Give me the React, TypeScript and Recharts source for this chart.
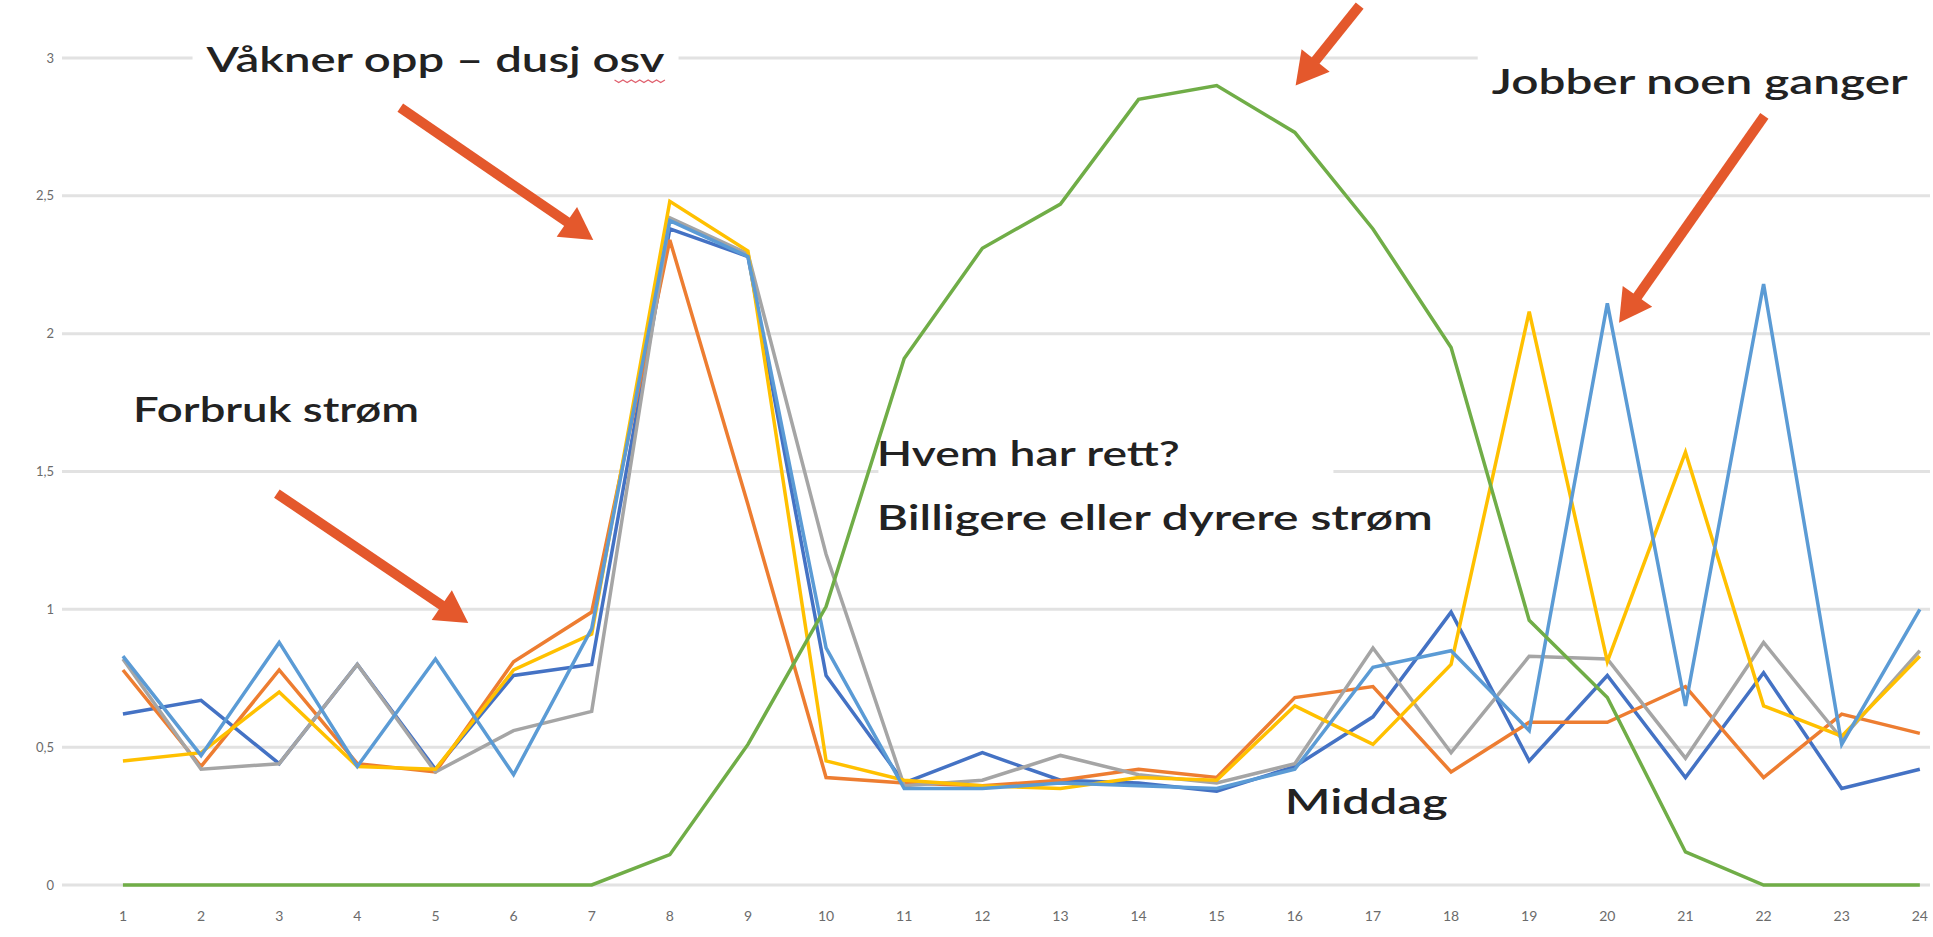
import { LineChart, Line, XAxis, YAxis, CartesianGrid, ReferenceLine, ReferenceDot } from 'recharts';

const HOURS = [1, 2, 3, 4, 5, 6, 7, 8, 9, 10, 11, 12, 13, 14, 15, 16, 17, 18, 19, 20, 21, 22, 23, 24];

// strømforbruk, fem husstander (kWh per time)
const HUS_1 = [0.62, 0.67, 0.44, 0.8, 0.42, 0.76, 0.8, 2.38, 2.28, 0.76, 0.37, 0.48, 0.38, 0.37, 0.34, 0.43, 0.61, 0.99, 0.45, 0.76, 0.39, 0.77, 0.35, 0.42];
const HUS_2 = [0.78, 0.43, 0.78, 0.44, 0.41, 0.81, 0.99, 2.34, 1.38, 0.39, 0.37, 0.36, 0.38, 0.42, 0.39, 0.68, 0.72, 0.41, 0.59, 0.59, 0.72, 0.39, 0.62, 0.55];
const HUS_3 = [0.82, 0.42, 0.44, 0.8, 0.41, 0.56, 0.63, 2.42, 2.29, 1.2, 0.36, 0.38, 0.47, 0.4, 0.37, 0.44, 0.86, 0.48, 0.83, 0.82, 0.46, 0.88, 0.53, 0.85];
const HUS_4 = [0.45, 0.48, 0.7, 0.43, 0.42, 0.78, 0.91, 2.48, 2.3, 0.45, 0.38, 0.36, 0.35, 0.39, 0.38, 0.65, 0.51, 0.8, 2.08, 0.81, 1.57, 0.65, 0.54, 0.83];
const HUS_5 = [0.83, 0.47, 0.88, 0.43, 0.82, 0.4, 0.93, 2.41, 2.28, 0.86, 0.35, 0.35, 0.37, 0.36, 0.35, 0.42, 0.79, 0.85, 0.56, 2.11, 0.65, 2.18, 0.51, 1.0];
// produksjon / pris-kurve
const SOL = [0, 0, 0, 0, 0, 0, 0, 0.11, 0.51, 1.01, 1.91, 2.31, 2.47, 2.85, 2.9, 2.73, 2.38, 1.95, 0.96, 0.68, 0.12, 0, 0, 0];

const Y_TICKS = [0, 0.5, 1, 1.5, 2, 2.5, 3];

const SERIES = [
  { key: 'hus1', values: HUS_1, color: '#4472C4' },
  { key: 'hus2', values: HUS_2, color: '#ED7D31' },
  { key: 'hus3', values: HUS_3, color: '#A5A5A5' },
  { key: 'hus4', values: HUS_4, color: '#FFC000' },
  { key: 'hus5', values: HUS_5, color: '#5B9BD5' },
  { key: 'sol', values: SOL, color: '#70AD47' },
];

// annotations, in chart (hour, value) coordinates
const ARROWS = [
  [{ x: 4.55, y: 2.82 }, { x: 7.02, y: 2.34 }],
  [{ x: 2.97, y: 1.42 }, { x: 5.42, y: 0.95 }],
  [{ x: 16.83, y: 3.19 }, { x: 16.01, y: 2.9 }],
  [{ x: 22.01, y: 2.79 }, { x: 20.15, y: 2.04 }],
];

const NOTES = [
  { text: 'Våkner opp – dusj osv', x: 2.07, y: 3.0, width: 458, box: 486, squiggle: true },
  { text: 'Jobber noen ganger', x: 18.52, y: 2.92, width: 416, box: 460, squiggle: false },
  { text: 'Forbruk strøm', x: 1.13, y: 1.73, width: 286, box: 0, squiggle: false },
  { text: 'Hvem har rett?', x: 10.65, y: 1.57, width: 303, box: 0, squiggle: false },
  { text: 'Billigere eller dyrere strøm', x: 10.65, y: 1.34, width: 556, box: 0, squiggle: false },
  { text: 'Middag', x: 15.87, y: 0.31, width: 163, box: 0, squiggle: false },
];

const ARROW_COLOR = '#E4582C';

const data = HOURS.map((hour, i) => {
  const row: Record<string, number> = { hour };
  SERIES.forEach((s) => {
    row[s.key] = s.values[i];
  });
  return row;
});

function Arrow(props: any) {
  const { x1, y1, x2, y2 } = props;
  const dx = x2 - x1;
  const dy = y2 - y1;
  const len = Math.hypot(dx, dy) || 1;
  const ux = dx / len;
  const uy = dy / len;
  const head = 32;
  const half = 18;
  const bx = x2 - ux * head;
  const by = y2 - uy * head;
  return (
    <g>
      <line x1={x1} y1={y1} x2={bx + ux * 2} y2={by + uy * 2} stroke={ARROW_COLOR} strokeWidth={10} />
      <polygon
        points={`${x2},${y2} ${bx - uy * half},${by + ux * half} ${bx + uy * half},${by - ux * half}`}
        fill={ARROW_COLOR}
      />
    </g>
  );
}

function noteShape(note: (typeof NOTES)[number]) {
  return (props: any) => {
    const { cx, cy } = props;
    let wave = '';
    if (note.squiggle) {
      const sx = cx + note.width - 50;
      for (let k = 0; k <= 12; k++) {
        wave += `${k === 0 ? 'M' : 'L'}${sx + k * 4.2},${cy + 22 + (k % 2 === 0 ? 0 : 2.5)} `;
      }
    }
    return (
      <g>
        {note.box > 0 && <rect x={cx - 14} y={cy - 28} width={note.box} height={56} fill="#fff" />}
        <text
          x={cx}
          y={cy}
          dominantBaseline="central"
          textAnchor="start"
          fontFamily="Lato"
          fontWeight={600}
          fontSize={35}
          fill="#222"
          textLength={note.width}
          lengthAdjust="spacingAndGlyphs"
        >
          {note.text}
        </text>
        {note.squiggle && <path d={wave} fill="none" stroke="#e0606e" strokeWidth={1.3} />}
      </g>
    );
  };
}

// white gap the text box leaves in the 1,5 gridline
function GapShape(props: any) {
  const { cx, cy } = props;
  return <rect x={cx} y={cy - 5} width={455} height={10} fill="#fff" />;
}

export default function App() {
  return (
    <div style={{ position: 'absolute', left: 0, top: 0, width: 1933, height: 937, background: '#fff' }}>
      <LineChart width={1933} height={937} data={data} margin={{ top: 58, right: 3, left: 0, bottom: 0 }}>
        <CartesianGrid vertical={false} stroke="#e2e2e2" strokeWidth={3} />
        <XAxis
          dataKey="hour"
          type="number"
          domain={[0.22, 24.13]}
          allowDataOverflow
          ticks={HOURS}
          interval={0}
          axisLine={false}
          tickLine={false}
          height={52}
          tickMargin={20}
          tick={{ fill: '#6b6b6b', fontSize: 14, fontFamily: 'Lato' }}
        />
        <YAxis
          domain={[0, 3]}
          ticks={Y_TICKS}
          width={62}
          axisLine={false}
          tickLine={false}
          tickFormatter={(v: number) => String(v).replace('.', ',')}
          tick={{ fill: '#6b6b6b', fontSize: 13, fontFamily: 'Lato' }}
        />
        <ReferenceDot x={10.67} y={1.5} r={0} ifOverflow="visible" shape={GapShape} />
        {SERIES.map((s) => (
          <Line
            key={s.key}
            dataKey={s.key}
            stroke={s.color}
            strokeWidth={3.5}
            dot={false}
            type="linear"
            isAnimationActive={false}
          />
        ))}
        {ARROWS.map((seg, i) => (
          <ReferenceLine key={`arrow-${i}`} segment={seg} ifOverflow="visible" shape={Arrow} />
        ))}
        {NOTES.map((note, i) => (
          <ReferenceDot
            key={`note-${i}`}
            x={note.x}
            y={note.y}
            r={0}
            ifOverflow="visible"
            shape={noteShape(note)}
          />
        ))}
      </LineChart>
    </div>
  );
}
